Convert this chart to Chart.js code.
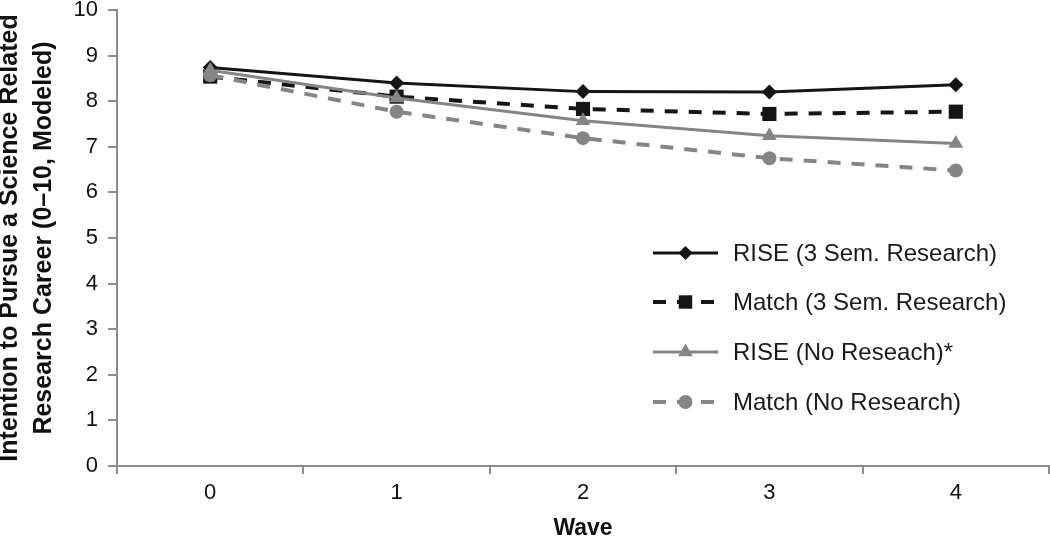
<!DOCTYPE html>
<html>
<head>
<meta charset="utf-8">
<script src="https://cdn.jsdelivr.net/npm/chart.js@4.4.1/dist/chart.umd.min.js"></script>
<style>
  html, body { margin: 0; padding: 0; background: #fff; }
  #wrap { width: 1050px; height: 543px; }
</style>
</head>
<body>
<div id="wrap"><canvas id="c" width="1050" height="543"></canvas></div>
<script>
// ---- data ----
const waves = ['0', '1', '2', '3', '4'];
const riseResearch    = [8.74, 8.40, 8.21, 8.20, 8.36];
const matchResearch   = [8.54, 8.10, 7.83, 7.72, 7.77];
const riseNoResearch  = [8.68, 8.07, 7.57, 7.24, 7.07];
const matchNoResearch = [8.57, 7.77, 7.19, 6.75, 6.48];
const seriesLabels = ['RISE (3 Sem. Research)', 'Match (3 Sem. Research)', 'RISE (No Reseach)*', 'Match (No Research)'];
const yTitle = ['Intention to Pursue a Science Related', 'Research Career (0\u201310, Modeled)'];
const xTitle = 'Wave';

const BLACK = '#151515';
const GRAY = '#858585';
const AXIS = '#8c8c8c';
const FONT = "'Liberation Sans', Arial, Helvetica, sans-serif";

const datasets = [
  { label: seriesLabels[0], data: riseResearch, borderColor: BLACK, backgroundColor: BLACK,
    borderWidth: 3, borderDash: [], pointStyle: 'rectRot', pointRadius: 7.5, legendRadius: 7, order: 4 },
  { label: seriesLabels[1], data: matchResearch, borderColor: BLACK, backgroundColor: BLACK,
    borderWidth: 4, borderDash: [13, 11], pointStyle: 'rect', pointRadius: 10, legendRadius: 9.5, order: 3 },
  { label: seriesLabels[2], data: riseNoResearch, borderColor: GRAY, backgroundColor: GRAY,
    borderWidth: 3, borderDash: [], pointStyle: 'triangle', pointRadius: 8.5, legendRadius: 8.5, order: 2 },
  { label: seriesLabels[3], data: matchNoResearch, borderColor: GRAY, backgroundColor: GRAY,
    borderWidth: 4, borderDash: [13, 11], pointStyle: 'circle', pointRadius: 7, legendRadius: 7, order: 1 }
].map(d => Object.assign({
  fill: false, tension: 0, pointBorderWidth: 0, pointHoverRadius: d.pointRadius,
  pointBackgroundColor: d.backgroundColor, pointBorderColor: d.backgroundColor
}, d));

const legendPlugin = {
  id: 'customLegend',
  afterDraw(chart) {
    const ctx = chart.ctx;
    const x0 = 653, x1 = 718, xm = 685.5, tx = 733;
    const ys = [253, 302, 352, 402];
    chart.data.datasets.forEach((ds, i) => {
      const y = ys[i];
      ctx.save();
      ctx.strokeStyle = ds.borderColor;
      ctx.lineWidth = ds.borderWidth;
      ctx.setLineDash(ds.borderDash || []);
      ctx.beginPath();
      ctx.moveTo(x0, y);
      ctx.lineTo(x1, y);
      ctx.stroke();
      ctx.setLineDash([]);
      ctx.fillStyle = ds.backgroundColor;
      ctx.strokeStyle = ds.backgroundColor;
      Chart.helpers.drawPoint(ctx, { pointStyle: ds.pointStyle, radius: ds.legendRadius, rotation: 0, borderWidth: 0 }, xm, y);
      ctx.fillStyle = '#1a1a1a';
      ctx.font = "24px " + FONT;
      ctx.textAlign = 'left';
      ctx.textBaseline = 'middle';
      ctx.fillText(ds.label, tx, y + 1);
      ctx.restore();
    });
  }
};

new Chart(document.getElementById('c'), {
  type: 'line',
  data: { labels: waves, datasets },
  options: {
    responsive: false,
    animation: false,
    devicePixelRatio: 1,
    layout: { autoPadding: false, padding: { top: 0, right: 1, left: 0, bottom: 0 } },
    plugins: { legend: { display: false }, tooltip: { enabled: false } },
    scales: {
      x: {
        type: 'category',
        offset: true,
        grid: { display: true, offset: true, drawOnChartArea: false, drawTicks: true, tickLength: 8, color: AXIS, lineWidth: 2 },
        border: { display: true, color: AXIS, width: 2 },
        ticks: { color: '#111', font: { family: FONT, size: 22, lineHeight: 1.2 }, padding: 6 },
        title: { display: true, text: xTitle, color: '#111', font: { family: FONT, size: 23, weight: 'bold', lineHeight: 1.2 }, padding: { top: 0, bottom: 1 } },
        afterFit(scale) { scale.height = 77; scale.paddingLeft = 0; scale.paddingRight = 0; }
      },
      y: {
        min: 0, max: 10,
        ticks: { stepSize: 1, color: '#111', font: { family: FONT, size: 22, lineHeight: 0.9 }, padding: 10 },
        grid: { display: true, drawOnChartArea: false, drawTicks: true, tickLength: 9, color: AXIS, lineWidth: 2 },
        border: { display: true, color: AXIS, width: 2 },
        title: { display: true, text: yTitle, color: '#111', font: { family: FONT, size: 25, weight: 'bold', lineHeight: 1.35 }, padding: { top: -7, bottom: 0 } },
        afterFit(scale) { scale.width = 117; scale.paddingTop = 10; scale.paddingBottom = 0; }
      }
    }
  },
  plugins: [legendPlugin]
});
</script>
</body>
</html>
